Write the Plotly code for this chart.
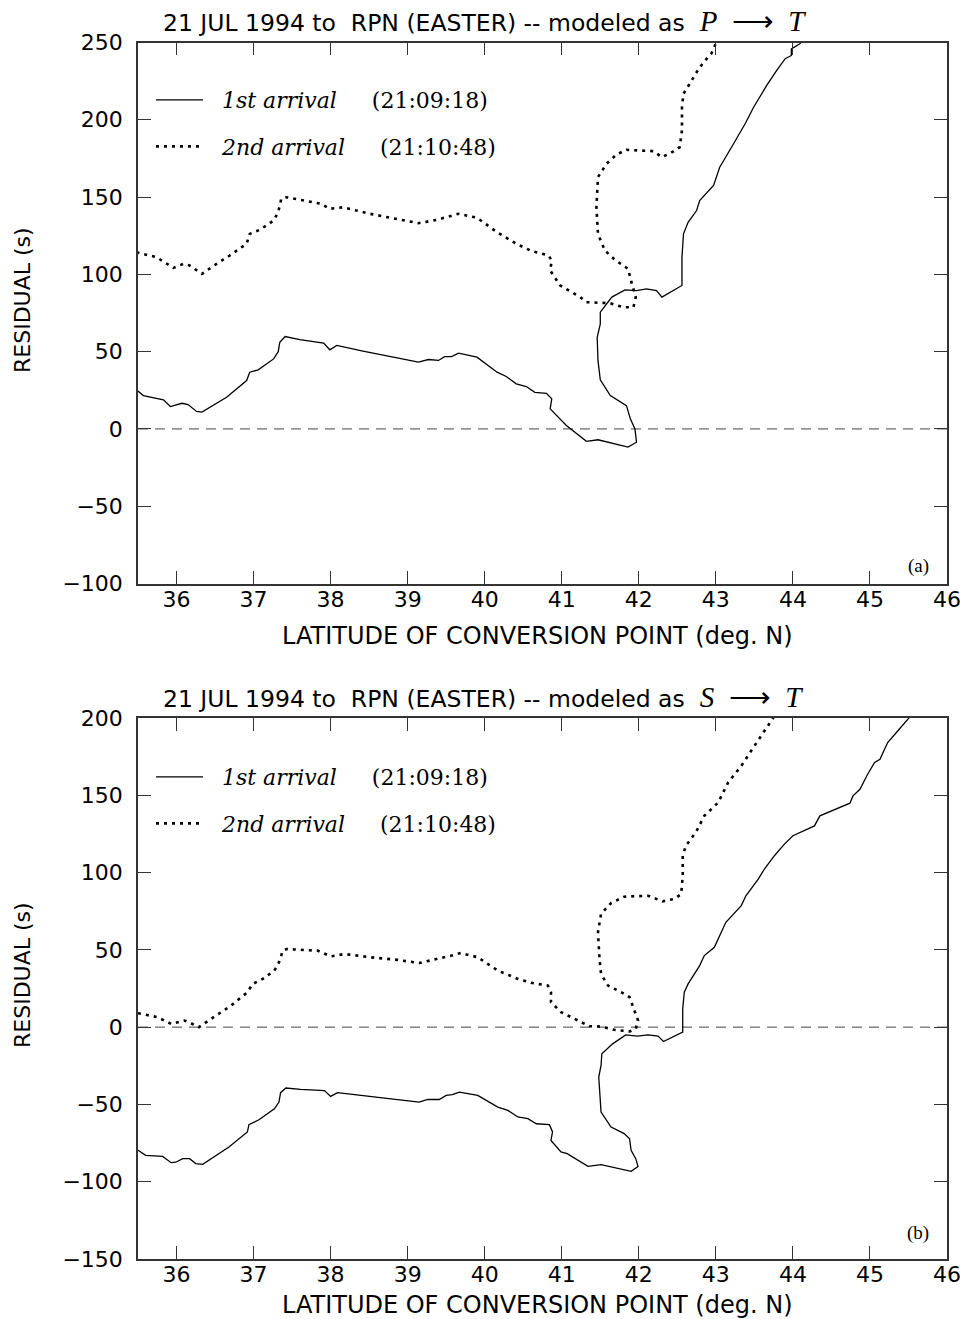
import plotly.graph_objects as go

# ---------------- data ----------------
x_ticks = [36, 37, 38, 39, 40, 41, 42, 43, 44, 45, 46]
y_ticks_a = [-100, -50, 0, 50, 100, 150, 200, 250]
y_ticks_b = [-150, -100, -50, 0, 50, 100, 150, 200]

# (a) modeled as P -> T
a_first_lat = [35.48, 35.57, 35.83, 35.92, 36.07, 36.15, 36.26, 36.33, 36.65, 36.91, 36.95, 37.06, 37.26,
               37.32, 37.34, 37.41, 37.60, 37.91, 37.99, 38.08, 38.42, 38.77, 39.14, 39.27, 39.40, 39.48,
               39.57, 39.66, 39.90, 40.16, 40.28, 40.41, 40.54, 40.65, 40.80, 40.87, 40.85, 41.06, 41.32,
               41.47, 41.86, 41.97, 41.95, 41.89, 41.84, 41.63, 41.50, 41.47, 41.46, 41.50, 41.50, 41.65,
               41.82, 41.97, 42.10, 42.23, 42.30, 42.56, 42.56, 42.58, 42.64, 42.75, 42.79, 42.97, 43.05,
               43.23, 43.38, 43.49, 43.66, 43.79, 43.90, 43.98, 43.98, 44.09, 44.16]
a_first_res = [25.3, 21.6, 18.8, 14.5, 16.6, 15.8, 11.3, 10.9, 20.5, 31.3, 36.7, 38.2, 45.3,
               50.0, 56.0, 59.8, 57.8, 55.5, 51.2, 54.0, 50.3, 47.0, 43.2, 44.9, 44.3, 46.8,
               46.8, 49.0, 46.4, 36.7, 33.9, 29.2, 27.4, 23.7, 23.0, 19.5, 13.0, 2.2, -8.0,
               -7.0, -11.8, -8.6, 0.0, 6.5, 15.1, 21.6, 31.8, 44.3, 59.3, 68.0, 75.5, 85.3,
               90.0, 89.5, 90.6, 89.5, 85.3, 92.8, 111.1, 126.2, 133.7, 141.3, 147.8, 157.5, 169.3,
               184.5, 197.4, 208.1, 222.2, 231.9, 239.5, 241.6, 245.9, 249.2, 253.0]

a_second_lat = [35.48, 35.74, 35.96, 36.09, 36.17, 36.33, 36.52, 36.69, 36.91, 36.95, 37.08, 37.26, 37.32,
                37.36, 37.43, 37.65, 37.88, 37.99, 38.16, 38.51, 38.86, 39.14, 39.38, 39.55, 39.66, 39.90,
                40.16, 40.41, 40.61, 40.83, 40.87, 40.85, 40.98, 41.24, 41.32, 41.63, 41.80, 41.93, 41.96,
                41.91, 41.86, 41.69, 41.56, 41.47, 41.45, 41.47, 41.58, 41.71, 41.84, 42.02, 42.19, 42.30,
                42.45, 42.53, 42.56, 42.56, 42.58, 42.66, 42.75, 42.84, 42.94, 42.98, 43.01]
a_second_res = [114.3, 111.1, 104.2, 106.8, 105.7, 100.3, 106.8, 112.2, 119.8, 126.2, 128.8, 134.8, 140.2,
                148.9, 149.9, 147.8, 145.6, 142.4, 143.4, 139.2, 135.9, 133.1, 135.3, 137.4, 139.2, 136.6,
                127.3, 119.8, 115.0, 112.2, 108.9, 102.5, 92.8, 85.3, 82.0, 81.3, 78.7, 78.7, 85.3,
                93.9, 103.6, 109.4, 115.4, 126.2, 143.4, 162.9, 171.5, 177.5, 180.6, 180.1, 179.7, 175.8,
                179.5, 182.3, 193.1, 208.1, 216.8, 223.3, 230.8, 237.3, 242.7, 247.0, 251.0]

# (b) modeled as S -> T
b_first_lat = [35.50, 35.60, 35.82, 35.93, 35.99, 36.08, 36.17, 36.25, 36.34, 36.51, 36.68, 36.92, 36.94,
               37.07, 37.27, 37.33, 37.35, 37.42, 37.61, 37.92, 38.00, 38.09, 38.35, 38.70, 39.15, 39.26,
               39.41, 39.50, 39.58, 39.67, 39.91, 40.17, 40.30, 40.43, 40.56, 40.67, 40.84, 40.88, 40.86,
               40.99, 41.07, 41.34, 41.51, 41.90, 41.99, 41.96, 41.90, 41.88, 41.81, 41.64, 41.51, 41.49,
               41.48, 41.51, 41.52, 41.66, 41.83, 41.98, 42.12, 42.25, 42.32, 42.57, 42.57, 42.57, 42.59,
               42.64, 42.79, 42.85, 42.98, 43.07, 43.13, 43.33, 43.39, 43.55, 43.63, 43.76, 43.89, 44.00,
               44.28, 44.35, 44.74, 44.78, 44.87, 44.97, 45.06, 45.13, 45.23, 45.36, 45.49, 45.54]
b_first_res = [-79.7, -82.9, -83.6, -87.7, -87.4, -85.1, -85.1, -88.3, -88.8, -82.9, -77.5, -67.8, -63.1,
               -59.9, -52.8, -48.5, -42.4, -39.4, -40.3, -41.0, -44.8, -42.4, -43.7, -45.9, -48.5, -46.8,
               -46.8, -44.2, -43.7, -42.0, -44.2, -51.7, -53.9, -58.1, -59.2, -62.5, -63.1, -67.8, -73.3,
               -80.7, -81.8, -90.1, -89.0, -93.3, -90.1, -85.1, -79.7, -72.2, -68.9, -64.6, -54.9, -42.0,
               -32.3, -24.8, -17.2, -10.8, -5.0, -5.8, -5.0, -5.8, -9.3, -3.2, -1.1, 11.8, 22.6,
               28.0, 39.8, 46.3, 51.7, 61.4, 67.8, 78.6, 85.0, 95.8, 102.3, 110.9, 118.4, 123.8,
               130.2, 136.7, 144.9, 149.6, 153.9, 163.6, 171.2, 173.3, 184.1, 191.6, 199.2, 202.0]

b_second_lat = [35.50, 35.75, 35.93, 36.10, 36.17, 36.29, 36.45, 36.71, 36.92, 36.99, 37.12, 37.27, 37.33,
                37.38, 37.43, 37.83, 38.00, 38.18, 38.52, 38.87, 39.15, 39.39, 39.57, 39.69, 39.91, 40.17,
                40.43, 40.62, 40.82, 40.86, 40.86, 40.99, 41.25, 41.36, 41.51, 41.68, 41.88, 41.96, 41.99,
                41.94, 41.88, 41.77, 41.60, 41.51, 41.49, 41.47, 41.51, 41.64, 41.81, 42.12, 42.31, 42.46,
                42.55, 42.57, 42.57, 42.61, 42.74, 42.85, 43.03, 43.16, 43.33, 43.50, 43.63, 43.74, 43.77]
b_second_res = [9.0, 6.5, 2.1, 4.3, 3.0, 0.0, 5.4, 14.0, 22.6, 28.0, 31.2, 36.6, 42.0,
                49.5, 50.5, 49.5, 45.8, 47.3, 45.2, 43.5, 41.5, 44.1, 46.3, 48.0, 45.2, 36.6,
                31.2, 28.5, 26.9, 22.6, 16.2, 9.7, 3.2, 0.6, 0.4, -1.7, -2.8, -1.1, 4.3,
                10.7, 19.4, 22.6, 26.9, 34.4, 44.1, 61.4, 73.2, 80.3, 84.4, 85.0, 81.4, 82.9,
                86.1, 97.9, 110.9, 117.3, 126.0, 136.7, 145.3, 158.3, 169.0, 181.9, 191.6, 199.2, 202.0]

names = ["\u00a0\u00a0<i>1st arrival</i>\u00a0\u00a0\u00a0\u00a0\u00a0(21:09:18)",
         "\u00a0\u00a0<i>2nd arrival</i>\u00a0\u00a0\u00a0\u00a0\u00a0(21:10:48)"]
titles = ["P", "S"]

# ---------------- figure ----------------
W, H = 963, 1319
def px(xp): return xp / W
def py(yp): return 1 - yp / H

SANS = "DejaVu Sans"
SERIF = "Liberation Serif"
LEGSERIF = "DejaVu Serif"
AX = "#333333"

fig = go.Figure()
solid = dict(color="black", width=1.3)
dotted = dict(color="black", width=2.6, dash="3px,5px")

fig.add_trace(go.Scatter(x=a_first_lat, y=a_first_res, mode="lines", line=solid, name=names[0],
                         xaxis="x", yaxis="y", legend="legend", legendgroup="a1"))
fig.add_trace(go.Scatter(x=a_second_lat, y=a_second_res, mode="lines", line=dotted, name=names[1],
                         xaxis="x", yaxis="y", legend="legend", legendgroup="a2"))
fig.add_trace(go.Scatter(x=b_first_lat, y=b_first_res, mode="lines", line=solid, name=names[0],
                         xaxis="x2", yaxis="y2", legend="legend2", legendgroup="b1"))
fig.add_trace(go.Scatter(x=b_second_lat, y=b_second_res, mode="lines", line=dotted, name=names[1],
                         xaxis="x2", yaxis="y2", legend="legend2", legendgroup="b2"))

xdom = [px(138), px(947)]
common_x = dict(range=[35.5, 46], tickvals=x_ticks, ticks="inside", ticklen=13, tickwidth=1,
                tickcolor=AX, showline=True, linecolor=AX, linewidth=1.5, mirror="ticks",
                showgrid=False, zeroline=False, domain=xdom, automargin=False,
                tickfont=dict(family=SANS, size=22, color="black"), ticklabelstandoff=-5)
common_y = dict(ticks="inside", ticklen=13, tickwidth=1, tickcolor=AX, showline=True,
                linecolor=AX, linewidth=1.5, mirror="ticks", showgrid=False, zeroline=False,
                automargin=False,
                tickfont=dict(family=SANS, size=22, color="black"), ticklabelstandoff=9)

legend_common = dict(xanchor="left", yanchor="top", bgcolor="rgba(0,0,0,0)",
                     font=dict(family=LEGSERIF, size=22, color="black"), traceorder="grouped",
                     tracegroupgap=15, itemwidth=47)

fig.update_layout(
    template="none",
    width=W, height=H, margin=dict(l=0, r=0, t=0, b=0, autoexpand=False),
    paper_bgcolor="white", plot_bgcolor="white", showlegend=True,
    xaxis=dict(common_x, anchor="y"),
    yaxis=dict(common_y, range=[-100, 250], tickvals=y_ticks_a, anchor="x",
               domain=[py(583.5), py(42.5)]),
    xaxis2=dict(common_x, anchor="y2"),
    yaxis2=dict(common_y, range=[-150, 200], tickvals=y_ticks_b, anchor="x2",
                domain=[py(1259.0), py(718.0)]),
    legend=dict(legend_common, x=px(151), y=py(79)),
    legend2=dict(legend_common, x=px(151), y=py(756)),
)

# zero lines
for xr, yr in [("x", "y"), ("x2", "y2")]:
    fig.add_shape(type="line", xref=f"{xr} domain", yref=yr, x0=0, x1=1, y0=0, y1=0,
                  line=dict(color="#444444", width=1, dash="10px,7px"), layer="below")

# annotations
for i, (ty, axy, xty, lby, lbl) in enumerate([(21, 300, 636, 566, "(a)"),
                                               (697, 975, 1305, 1233, "(b)")]):
    fig.add_annotation(
        x=px(161), y=py(ty), xref="paper", yref="paper", xanchor="left", yanchor="middle",
        showarrow=False,
        text=("21 JUL 1994 to\u00a0\u00a0RPN (EASTER) -- modeled as\u00a0\u00a0"
              f"<span style='font-family:{SERIF};font-size:29px'><i>{titles[i]}</i>\u00a0\u00a0⟶\u00a0\u00a0<i>T</i></span>"),
        font=dict(family=SANS, size=23.5, color="black"))
    fig.add_annotation(x=px(22), y=py(axy), xref="paper", yref="paper", textangle=-90,
                       xanchor="center", yanchor="middle",
                       showarrow=False, text="RESIDUAL (s)",
                       font=dict(family=SANS, size=22, color="black"))
    fig.add_annotation(x=px(537), y=py(xty), xref="paper", yref="paper", showarrow=False,
                       xanchor="center", yanchor="middle",
                       text="LATITUDE OF CONVERSION POINT (deg. N)",
                       font=dict(family=SANS, size=24, color="black"))
    fig.add_annotation(x=px(918), y=py(lby), xref="paper", yref="paper", showarrow=False,
                       xanchor="center", yanchor="middle",
                       text=lbl, font=dict(family=SERIF, size=19, color="black"))

# the page body default margin would push the full-window figure off the edges
fig.write_html("out.html",
               config={"displayModeBar": False},
               post_script="document.body.style.margin='0';document.body.style.padding='0';"
                           "document.body.style.overflow='hidden';")
